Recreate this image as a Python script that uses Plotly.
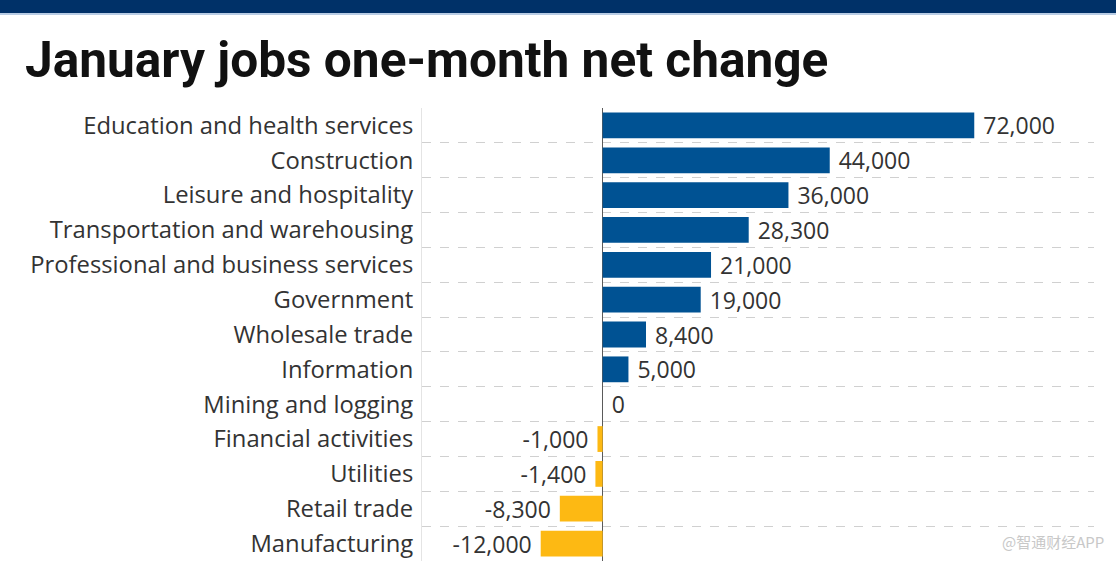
import plotly.graph_objects as go

categories = [
    "Education and health services", "Construction", "Leisure and hospitality",
    "Transportation and warehousing", "Professional and business services",
    "Government", "Wholesale trade", "Information", "Mining and logging",
    "Financial activities", "Utilities", "Retail trade", "Manufacturing",
]
values = [72000, 44000, 36000, 28300, 21000, 19000, 8400, 5000, 0, -1000, -1400, -8300, -12000]

W, H = 1116, 561
ML, MR, MT, MB = 422, 22, 108, 0
PW, PH = W - ML - MR, H - MT - MB

BLUE = "#005293"
GOLD = "#fdb913"
TXT = "#333333"
FONT = "Open Sans"

positions = list(range(len(categories)))
colors = [BLUE if v >= 0 else GOLD for v in values]
labels = []
for v in values:
    s = f"{v:,}"
    labels.append((" " + s) if v >= 0 else (s + " "))

fig = go.Figure(go.Bar(
    x=values, y=positions, orientation="h",
    marker=dict(color=colors, line=dict(width=0)),
    width=0.74,
    text=labels, textposition="outside", constraintext="none",
    textfont=dict(family=FONT, size=23, color=TXT),
    cliponaxis=False, hoverinfo="skip",
))

def px_to_paper_x(px):
    return (px - ML) / PW

def px_to_paper_y(py):
    return 1 - (py - MT) / PH

fig.add_shape(type="rect", xref="paper", yref="paper",
              x0=px_to_paper_x(0), x1=px_to_paper_x(W),
              y0=px_to_paper_y(13), y1=px_to_paper_y(0),
              fillcolor="#003168", line=dict(width=0), layer="above")
fig.add_shape(type="rect", xref="paper", yref="paper",
              x0=px_to_paper_x(0), x1=px_to_paper_x(W),
              y0=px_to_paper_y(15), y1=px_to_paper_y(13),
              fillcolor="#b8cce4", line=dict(width=0), layer="above")

fig.add_annotation(text="@智通财经APP", xref="paper", yref="paper",
                   x=px_to_paper_x(1106), y=px_to_paper_y(541),
                   xanchor="right", yanchor="middle", showarrow=False,
                   font=dict(family="Noto Sans CJK SC", size=15, color="#c8c8c8"))

fig.update_layout(
    width=W, height=H,
    margin=dict(l=ML, r=MR, t=MT, b=MB, pad=0),
    paper_bgcolor="white", plot_bgcolor="white",
    showlegend=False,
    title=dict(text="<b>January jobs one-month net change</b>",
               x=25 / W, xanchor="left", xref="container",
               y=1 - 60 / H, yanchor="middle", yref="container",
               font=dict(family="Roboto", size=49.6, color="#111111")),
    xaxis=dict(range=[-35000, 95200], showgrid=False, showticklabels=False,
               zeroline=True, zerolinecolor="#5a5a5a", zerolinewidth=1,
               fixedrange=True),
    yaxis=dict(range=[12.5, -0.5], tickmode="array", tickvals=positions,
               ticktext=categories, showgrid=False,
               tickfont=dict(family=FONT, size=23.8, color=TXT),
               ticks="", ticklabelstandoff=3,
               showline=True, linecolor="#e4e4e4", linewidth=1,
               minor=dict(tickmode="linear", tick0=0.5, dtick=1, showgrid=True,
                          gridcolor="#d0d0d0", griddash="dash", gridwidth=1,
                          ticks=""),
               zeroline=False, fixedrange=True),
    bargap=0.26,
)

fig.write_html("out.html", config={"displayModeBar": False},
               post_script="document.body.style.margin='0';document.body.style.overflow='hidden';")
